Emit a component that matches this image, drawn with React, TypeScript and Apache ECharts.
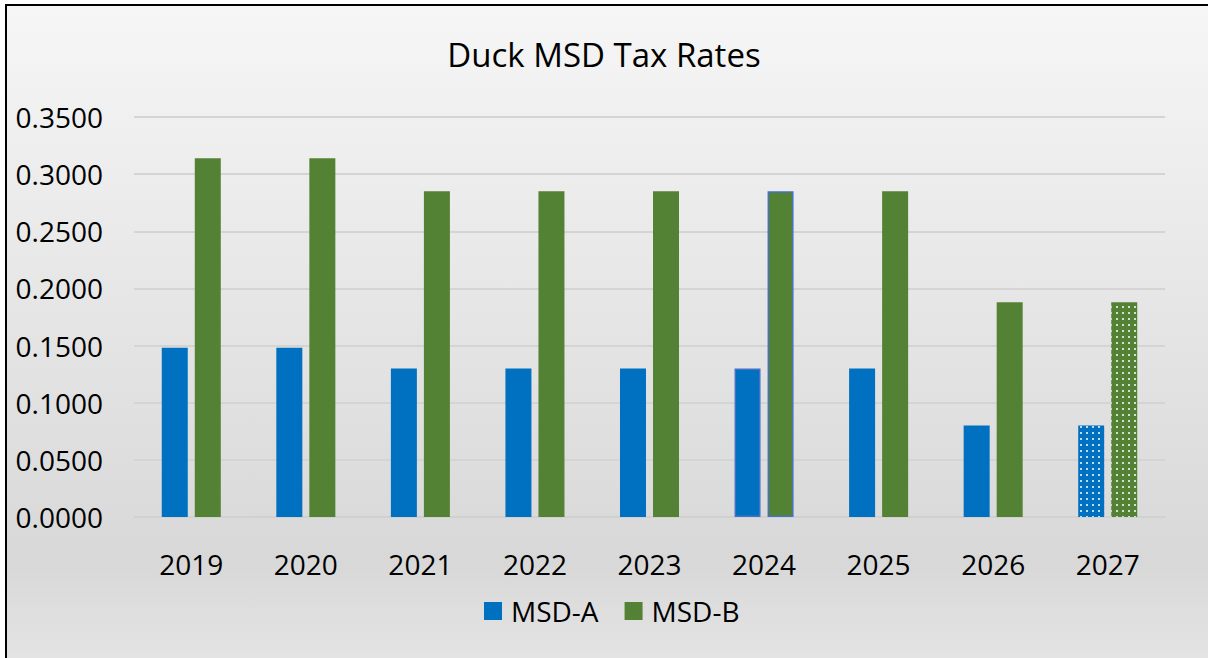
import React, { useEffect, useRef } from "react";
import * as echarts from "echarts";

const categories = ["2019", "2020", "2021", "2022", "2023", "2024", "2025", "2026", "2027"];
const msdA = [0.148, 0.148, 0.13, 0.13, 0.13, 0.13, 0.13, 0.08, 0.08];
const msdB = [0.314, 0.314, 0.285, 0.285, 0.285, 0.285, 0.285, 0.188, 0.188];
const titleText = "Duck MSD Tax Rates";
const seriesNames = ["MSD-A", "MSD-B"];

const BLUE = "#0070C0";
const GREEN = "#548235";
const FONT = "'Open Sans', sans-serif";

const decal = {
  symbol: "rect",
  symbolSize: 1,
  dashArrayX: [2, 4],
  dashArrayY: [2, 4],
  color: "rgba(255,255,255,0.75)",
};

function buildData(values: number[]) {
  return values.map((v, i) => {
    const cat = categories[i];
    if (cat === "2027") {
      return { value: v, itemStyle: { decal } };
    }
    if (cat === "2024") {
      return { value: v, itemStyle: { borderColor: "#4472C4", borderWidth: 1.5 } };
    }
    return v;
  });
}

export default function App() {
  const ref = useRef<HTMLDivElement>(null);
  useEffect(() => {
    if (!ref.current) return;
    const chart = echarts.init(ref.current, null, { renderer: "svg" });
    chart.setOption({
      animation: false,
      backgroundColor: "transparent",
      title: {
        text: titleText,
        left: "center",
        top: 28,
        textStyle: { fontFamily: FONT, fontSize: 33, fontWeight: "normal", color: "#000", lineHeight: 42 },
      },
      legend: {
        data: seriesNames,
        left: 479,
        top: 592,
        itemWidth: 18,
        itemHeight: 18,
        itemGap: 26,
        icon: "rect",
        textStyle: { fontFamily: FONT, fontSize: 28, color: "#000", padding: [0, 0, 0, 4] },
      },
      grid: { left: 134, right: 43, top: 117, bottom: 141, containLabel: false },
      xAxis: {
        type: "category",
        data: categories,
        axisLine: { show: true, lineStyle: { color: "#cfcfcf", width: 1.5 } },
        axisTick: { show: false },
        axisLabel: { fontFamily: FONT, fontSize: 28, color: "#000", margin: 33 },
      },
      yAxis: {
        type: "value",
        min: 0,
        max: 0.35,
        interval: 0.05,
        axisLine: { show: false },
        axisTick: { show: false },
        splitLine: { lineStyle: { color: "#d4d4d4", width: 2 } },
        axisLabel: {
          fontFamily: FONT,
          fontSize: 28,
          color: "#000",
          margin: 31,
          formatter: (v: number) => v.toFixed(4),
        },
      },
      series: [
        {
          name: seriesNames[0],
          type: "bar",
          data: buildData(msdA),
          barWidth: 26,
          barGap: "27%",
          itemStyle: { color: BLUE },
        },
        {
          name: seriesNames[1],
          type: "bar",
          data: buildData(msdB),
          barWidth: 26,
          barGap: "27%",
          itemStyle: { color: GREEN },
        },
      ],
    });
    return () => chart.dispose();
  }, []);

  return (
    <div style={{ position: "fixed", left: 0, top: 0, width: 1208, height: 658, background: "#fff", overflow: "hidden" }}>
      <div
        style={{
          position: "absolute",
          left: 5,
          top: 4,
          width: 1201,
          height: 654,
          borderTop: "2px solid #000",
          borderLeft: "2px solid #000",
          borderRight: "1px solid #c8c8c8",
          background: "linear-gradient(to bottom, #f6f6f6 0%, #d8d8d8 85%, #e4e4e4 100%)",
        }}
      />
      <div ref={ref} style={{ position: "absolute", left: 0, top: 0, width: 1208, height: 658 }} />
    </div>
  );
}
